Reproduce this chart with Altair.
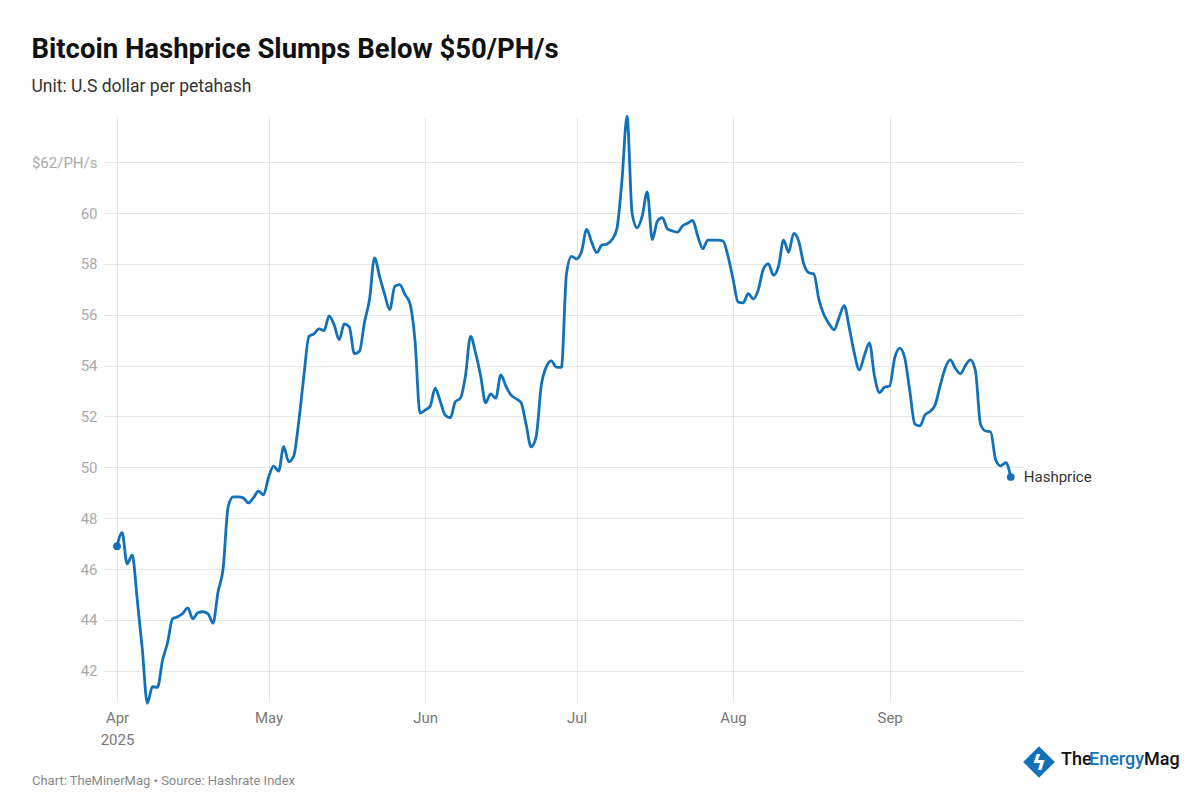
import altair as alt
import pandas as pd

START_DATE = "2025-04-01"
hashprice = [
    46.9, 47.43, 46.2, 46.55, 44.8, 42.85, 40.72, 41.37, 41.35, 42.4,
    43.1, 44.05, 44.12, 44.25, 44.47, 44.05, 44.28, 44.32, 44.25, 43.87,
    45.1, 46.0, 48.45, 48.84, 48.84, 48.8, 48.6, 48.8, 49.06, 48.92,
    49.6, 50.05, 49.85, 50.81, 50.22, 50.45, 51.82, 53.6, 55.15, 55.25,
    55.45, 55.38, 55.96, 55.6, 55.02, 55.64, 55.52, 54.47, 54.56, 55.7,
    56.6, 58.24, 57.5, 56.8, 56.2, 57.12, 57.19, 56.8, 56.45, 55.0,
    52.13, 52.25, 52.4, 53.11, 52.6, 52.05, 51.95, 52.58, 52.72, 53.6,
    55.15, 54.5, 53.6, 52.54, 52.89, 52.72, 53.64, 53.2, 52.85, 52.7,
    52.55, 51.7, 50.81, 51.2, 53.2, 53.95, 54.19, 53.94, 53.93, 57.6,
    58.3, 58.2, 58.5, 59.36, 58.85, 58.45, 58.74, 58.78, 58.95, 59.4,
    61.3, 63.8, 60.0, 59.42, 59.88, 60.83, 58.96, 59.68, 59.82, 59.38,
    59.3, 59.25, 59.5, 59.6, 59.71, 59.1, 58.6, 58.94, 58.94, 58.94,
    58.9, 58.3, 57.4, 56.5, 56.47, 56.83, 56.62, 56.99, 57.8, 58.0,
    57.55, 57.91, 58.94, 58.46, 59.2, 58.9, 58.0, 57.65, 57.6, 56.6,
    56.0, 55.65, 55.41, 55.9, 56.36, 55.5, 54.5, 53.83, 54.4, 54.89,
    53.6, 52.94, 53.15, 53.2, 54.3, 54.69, 54.3, 53.0, 51.7, 51.63,
    52.06, 52.2, 52.45, 53.2, 53.9, 54.23, 53.9, 53.68, 54.0, 54.23,
    53.8, 51.7, 51.43, 51.4, 50.3, 50.06, 50.18, 49.62,
]
y_ticks = [42, 44, 46, 48, 50, 52, 54, 56, 58, 60, 62]
month_ticks = [(2025, 4), (2025, 5), (2025, 6), (2025, 7), (2025, 8), (2025, 9)]
series_name = "Hashprice"

dates = pd.date_range(START_DATE, periods=len(hashprice), freq="D")
df = pd.DataFrame({
    "date": dates.strftime("%Y-%m-%dT00:00:00"),
    "value": hashprice,
    "idx": range(len(hashprice)),
})
last_idx = len(hashprice) - 1

BLUE = "#1271b9"
W, H = 919, 585

x_enc = alt.X(
    "date:T",
    scale=alt.Scale(domain=[alt.DateTime(year=2025, month=3, date=29, hours=10),
                            alt.DateTime(year=2025, month=9, date=27, hours=10)]),
    axis=alt.Axis(
        values=[alt.DateTime(year=y, month=m, date=1) for y, m in month_ticks],
        labelExpr="month(datum.value) == 3 ? ['Apr', '2025'] : timeFormat(datum.value, '%b')",
        grid=True, gridColor="#e6e6e6", domain=False, ticks=False,
        labelColor="#777", labelFontSize=15, labelPadding=8, labelLineHeight=22,
        labelFont="Roboto", title=None,
    ),
)
y_enc = alt.Y(
    "value:Q",
    scale=alt.Scale(domain=[40.77, 63.78], nice=False, zero=False),
    axis=alt.Axis(
        values=y_ticks,
        labelExpr="datum.value == 62 ? '$62/PH/s' : datum.label",
        grid=True, gridColor="#e6e6e6", domain=False, ticks=False,
        labelColor="#aaa", labelFontSize=15, labelPadding=7,
        labelFont="Roboto", title=None,
    ),
)

base = alt.Chart(df)
line = base.mark_line(color=BLUE, strokeWidth=2.8, interpolate="monotone").encode(x=x_enc, y=y_enc)
dots = base.transform_filter(
    f"datum.idx == 0 || datum.idx == {last_idx}"
).mark_circle(color=BLUE, size=60, opacity=1).encode(x="date:T", y="value:Q")
label = base.transform_filter(f"datum.idx == {last_idx}").mark_text(
    align="left", baseline="middle", dx=13, fontSize=15, font="Roboto", color="#333"
).encode(x="date:T", y="value:Q", text=alt.value(series_name))

footer = alt.Chart(pd.DataFrame({"t": ["Chart: TheMinerMag \u2022 Source: Hashrate Index"]})).mark_text(
    align="left", baseline="middle", fontSize=13, font="Roboto", color="#888"
).encode(x=alt.value(-72), y=alt.value(664), text="t:N")

diamond = alt.Chart(pd.DataFrame({"k": [1]})).mark_point(
    shape="diamond", filled=True, color=BLUE, size=1000, opacity=1
).encode(x=alt.value(935), y=alt.value(645))
bolt = alt.Chart(pd.DataFrame({"t": ["\u03df"]})).mark_text(
    fontSize=22, color="white", font="DejaVu Sans", fontWeight="bold"
).encode(x=alt.value(935), y=alt.value(646), text="t:N")
logo_parts = pd.DataFrame({
    "t": ["The", "Energy", "Mag"],
    "c": ["#111", BLUE, "#111"],
    "px": [957, 985, 1040],
})
logo = alt.Chart(logo_parts).mark_text(
    align="left", baseline="middle", fontSize=18, font="Roboto", fontWeight=500
).encode(x=alt.X("px:Q", scale=None), y=alt.value(643), text="t:N",
         color=alt.Color("c:N", scale=None))

chart = alt.layer(line, dots, label, footer, diamond, bolt, logo).properties(
    width=W, height=H,
    padding={"left": 23, "top": 27, "right": 5, "bottom": 5},
    background="white",
    title=alt.TitleParams(
        text="Bitcoin Hashprice Slumps Below $50/PH/s",
        subtitle="Unit: U.S dollar per petahash",
        anchor="start", frame="bounds", font="Roboto", fontSize=27.5, fontWeight="bold",
        color="#111", subtitleFont="Roboto", subtitleFontSize=17.5, subtitleColor="#333",
        subtitlePadding=15, offset=15,
    ),
).configure_view(stroke=None)

chart.save("out.html", embed_options={"renderer": "svg", "actions": False})
